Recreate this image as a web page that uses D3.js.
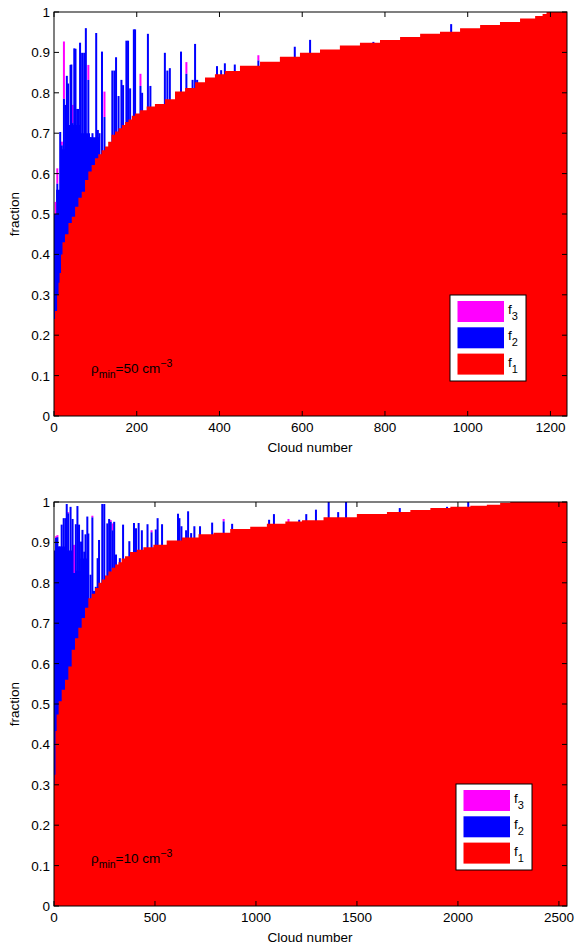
<!DOCTYPE html>
<html><head><meta charset="utf-8">
<script src="https://cdn.jsdelivr.net/npm/d3@7"></script>
<style>body{margin:0;background:#fff}svg{display:block}</style>
</head><body>
<svg id="chart" width="576" height="944"></svg>
<script>
// ---------- DATA ----------
// Panel 1 (rho_min = 50 cm^-3)
const topN = 1240;
const topXTicks = [0,200,400,600,800,1000,1200];
const topRedCloud = [0,5,10,12,15,19,22,31,39,47,55,63,71,79,87,95,103,111,119,127,135,143,152,160,168,176,184,192,200,216,232,256,280,305,329,353,377,401,425,474,522,570,619,667,715,764,812,861,909,957,1006,1054,1102,1151,1175,1187,1194];
const topRedF1 = [0.24,0.26,0.30,0.33,0.354,0.40,0.43,0.45,0.478,0.493,0.518,0.54,0.555,0.584,0.605,0.621,0.638,0.648,0.658,0.667,0.679,0.696,0.704,0.712,0.72,0.728,0.734,0.743,0.749,0.757,0.766,0.772,0.784,0.803,0.812,0.826,0.838,0.846,0.854,0.867,0.877,0.889,0.899,0.907,0.917,0.924,0.931,0.938,0.946,0.951,0.96,0.968,0.975,0.984,0.99,0.995,1.0];
const topFloorCloud = [0,5,15,31,63,87,111];
const topFloorF2top = [0.50,0.56,0.66,0.72,0.70,0.69];
const topSpikeCloud = [4,8,15,19,24,28,31,34,40,42,45,49,52,56,58,63,68,73,77,83,88,93,102,106,110,116,122,141,146,150,156,163,167,175,179,184,193,196,209,213,227,233,268,274,280,307,320,335,341,346,394,404,413,437,494,582,619,772,960];
const topSpikeF2top = [0.50,0.575,0.703,0.67,0.785,0.77,0.842,0.823,0.869,0.87,0.725,0.91,0.909,0.76,0.76,0.924,0.899,0.899,0.96,0.832,0.69,0.70,0.948,0.708,0.70,0.902,0.74,0.855,0.855,0.888,0.792,0.832,0.819,0.929,0.929,0.811,0.957,0.957,0.817,0.80,0.946,0.817,0.899,0.855,0.861,0.902,0.847,0.832,0.921,0.832,0.866,0.856,0.873,0.87,0.88,0.914,0.931,0.926,0.970];
const topSpikeF3top = [0.53,0.613,0.703,0.679,0.927,0.77,0.842,0.823,0.869,0.87,0.77,0.91,0.909,0.76,0.76,0.924,0.899,0.899,0.96,0.869,0.69,0.70,0.948,0.708,0.70,0.902,0.803,0.855,0.855,0.888,0.792,0.832,0.819,0.929,0.929,0.811,0.957,0.957,0.847,0.80,0.946,0.817,0.899,0.855,0.861,0.902,0.876,0.832,0.921,0.832,0.866,0.856,0.873,0.87,0.893,0.914,0.931,0.926,0.970];

// Panel 2 (rho_min = 10 cm^-3)
const botN = 2540;
const botXTicks = [0,500,1000,1500,2000,2500];
const botRedCloud = [0,5,10,16,30,46,63,79,96,112,129,145,162,178,195,212,228,244,261,278,294,311,327,343,360,393,426,459,525,591,674,757,823,922,1021,1087,1204,1252,1417,1582,1715,1814,1913,2012,2111,2175,2243,2275];
const botRedF1 = [0.30,0.325,0.433,0.474,0.507,0.535,0.56,0.593,0.634,0.663,0.689,0.713,0.738,0.762,0.773,0.787,0.80,0.808,0.818,0.828,0.837,0.845,0.851,0.86,0.866,0.876,0.882,0.888,0.894,0.905,0.912,0.92,0.924,0.933,0.939,0.946,0.952,0.955,0.962,0.97,0.975,0.98,0.985,0.988,0.991,0.993,0.998,1.0];
const botFloorCloud = [0,20,60,100,130,165];
const botFloorF2top = [0.88,0.89,0.88,0.83,0.86];
const botSpikeCloud = [10,17,27,38,48,57,63,70,82,92,99,108,116,124,134,141,150,156,165,170,181,190,198,207,216,223,239,249,264,273,281,290,298,307,326,342,373,396,406,419,435,463,483,504,513,535,614,621,631,654,664,679,695,723,783,840,882,1065,1089,1161,1214,1249,1297,1360,1407,1446,1712,1946,2051];
const botSpikeF2top = [0.911,0.913,0.89,0.944,0.96,0.96,0.995,0.972,0.988,0.958,0.824,0.945,0.99,0.944,0.902,0.931,0.877,0.92,0.964,0.922,0.82,0.962,0.78,0.79,0.861,0.906,0.995,0.995,0.947,0.958,0.951,0.93,0.951,0.87,0.861,0.944,0.903,0.948,0.935,0.948,0.93,0.945,0.925,0.932,0.96,0.945,0.971,0.96,0.94,0.93,0.977,0.923,0.94,0.94,0.949,0.952,0.946,0.956,0.97,0.95,0.956,0.97,0.981,1.0,0.975,1.0,0.985,0.988,1.0];
const botSpikeF3top = [0.915,0.918,0.89,0.944,0.96,0.96,0.995,0.975,0.988,0.958,0.894,0.945,0.99,0.944,0.902,0.931,0.877,0.92,0.964,0.922,0.82,0.966,0.78,0.79,0.861,0.906,0.995,0.995,0.947,0.958,0.955,0.947,0.951,0.87,0.861,0.944,0.903,0.948,0.935,0.948,0.93,0.945,0.93,0.932,0.96,0.945,0.971,0.96,0.94,0.93,0.977,0.923,0.94,0.94,0.949,0.958,0.946,0.956,0.97,0.958,0.956,0.97,0.981,1.0,0.975,1.0,0.985,0.988,1.0];

const yTicks = [0,0.1,0.2,0.3,0.4,0.5,0.6,0.7,0.8,0.9,1];
const legendLabels = ["3","2","1"];
const seriesColors = {f1:"#ff0000", f2:"#0000ff", f3:"#ff00ff"};

// ---------- DRAW ----------
const svg = d3.select("#chart");
const FONT = "'Liberation Sans', Arial, Helvetica, sans-serif";

function panel(cfg){
  const x = d3.scaleLinear().domain([0,cfg.N]).range([54,567]);
  const y = d3.scaleLinear().domain([0,1]).range([cfg.y0, cfg.y1]);
  const g = svg.append("g");
  const spikeW = 2;

  // blue floor (dense f2 region) as step area
  const floorPts = cfg.floorCloud.map((c,i)=>({c, v: cfg.floorTop[Math.min(i, cfg.floorTop.length-1)]}));
  g.append("path").datum(floorPts)
    .attr("d", d3.area().curve(d3.curveStepAfter).x(d=>x(d.c)).y0(y(0)).y1(d=>y(d.v)))
    .attr("fill", seriesColors.f2);

  const spikes = cfg.spikeCloud.map((c,i)=>({c, b:cfg.spikeF2[i], m:cfg.spikeF3[i]}));
  g.selectAll(".mag").data(spikes.filter(d=>d.m>d.b)).join("rect")
    .attr("x", d=>x(d.c)-spikeW/2).attr("width", spikeW)
    .attr("y", d=>y(d.m)).attr("height", d=>y(d.b)-y(d.m))
    .attr("fill", seriesColors.f3);
  g.selectAll(".blu").data(spikes).join("rect")
    .attr("x", d=>x(d.c)-spikeW/2).attr("width", spikeW)
    .attr("y", d=>y(d.b)).attr("height", d=>y(0)-y(d.b))
    .attr("fill", seriesColors.f2);

  // red f1 as stepped area
  const redPts = cfg.redCloud.map((c,i)=>({c, v:cfg.redF1[i]}));
  redPts.push({c:cfg.N, v:cfg.redF1[cfg.redF1.length-1]});
  g.append("path").datum(redPts)
    .attr("d", d3.area().curve(d3.curveStep).x(d=>x(d.c)).y0(y(0)).y1(d=>y(d.v)))
    .attr("fill", seriesColors.f1);

  // axes box
  const ax = svg.append("g").attr("stroke","#000").attr("fill","none");
  ax.append("rect").attr("x",54).attr("y",cfg.y1).attr("width",513).attr("height",cfg.y0-cfg.y1).attr("stroke-width",1);
  const tl = 5;
  cfg.xTicks.forEach(t=>{
    ax.append("line").attr("x1",x(t)).attr("x2",x(t)).attr("y1",cfg.y0).attr("y2",cfg.y0-tl);
    ax.append("line").attr("x1",x(t)).attr("x2",x(t)).attr("y1",cfg.y1).attr("y2",cfg.y1+tl);
  });
  yTicks.forEach(t=>{
    ax.append("line").attr("x1",54).attr("x2",54+tl).attr("y1",y(t)).attr("y2",y(t));
    ax.append("line").attr("x1",567).attr("x2",567-tl).attr("y1",y(t)).attr("y2",y(t));
  });
  const tx = svg.append("g").attr("font-family",FONT).attr("font-size",13.5).attr("fill","#000");
  cfg.xTicks.forEach(t=>{
    tx.append("text").attr("x",x(t)).attr("y",cfg.y0+16).attr("text-anchor","middle").text(t);
  });
  yTicks.forEach(t=>{
    tx.append("text").attr("x",50).attr("y",y(t)+5).attr("text-anchor","end").text(d3.format("~g")(t));
  });
  tx.append("text").attr("x",310).attr("y",cfg.y0+36).attr("text-anchor","middle").text("Cloud number");
  tx.append("text").attr("transform",`translate(19,${(cfg.y0+cfg.y1)/2}) rotate(-90)`).attr("text-anchor","middle").text("fraction");

  // annotation
  const an = tx.append("text").attr("x",91).attr("y",cfg.y0-43);
  an.append("tspan").text("ρ");
  an.append("tspan").attr("font-size",10.5).attr("dy",5).text("min");
  an.append("tspan").attr("dy",-5).text("="+cfg.rho+" cm");
  an.append("tspan").attr("font-size",10.5).attr("dy",-6).text("−3");

  // legend
  const L = cfg.legend;
  const lg = svg.append("g");
  lg.append("rect").attr("x",L.x).attr("y",L.y).attr("width",L.w).attr("height",L.h).attr("fill","#fff").attr("stroke","#000");
  const cols = [seriesColors.f3, seriesColors.f2, seriesColors.f1];
  legendLabels.forEach((lab,i)=>{
    const yy = L.y+6+i*26.3;
    lg.append("rect").attr("x",L.x+7.5).attr("y",yy).attr("width",46.5).attr("height",21).attr("fill",cols[i]);
    const t = lg.append("text").attr("x",L.x+58).attr("y",yy+13).attr("font-family",FONT).attr("font-size",13.5);
    t.append("tspan").text("f");
    t.append("tspan").attr("font-size",11).attr("dy",6).text(lab);
  });
}

panel({N:topN, y0:416, y1:12, xTicks:topXTicks, redCloud:topRedCloud, redF1:topRedF1,
  floorCloud:topFloorCloud, floorTop:topFloorF2top, spikeCloud:topSpikeCloud, spikeF2:topSpikeF2top, spikeF3:topSpikeF3top,
  rho:"50", legend:{x:450,y:295,w:76,h:86}});
panel({N:botN, y0:906, y1:502, xTicks:botXTicks, redCloud:botRedCloud, redF1:botRedF1,
  floorCloud:botFloorCloud, floorTop:botFloorF2top, spikeCloud:botSpikeCloud, spikeF2:botSpikeF2top, spikeF3:botSpikeF3top,
  rho:"10", legend:{x:456,y:784,w:76,h:86}});
</script>
</body></html>
